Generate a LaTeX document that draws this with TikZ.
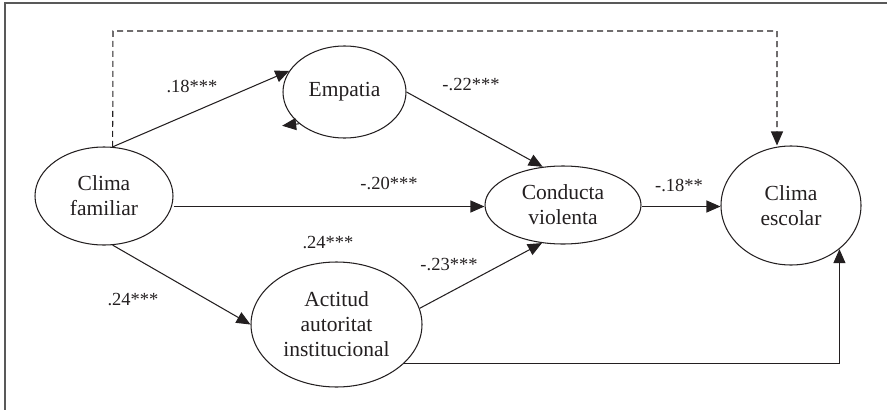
\documentclass[tikz,border=0pt]{standalone}
\usepackage{fontspec}
\setmainfont{Liberation Serif}
\usetikzlibrary{arrows.meta,shapes.geometric}
\definecolor{ink}{HTML}{231F20}
\begin{document}
\begin{tikzpicture}[x=1pt,y=-1pt,
  var/.style={ellipse,draw=ink,line width=1.05pt,inner sep=0pt,align=center,
    font=\fontsize{21.5}{25}\selectfont,text=ink},
  arr/.style={draw=ink,line width=1.05pt,-{Triangle[length=14pt,width=12pt]}},
  coef/.style={font=\fontsize{18.5}{20}\selectfont,text=ink,inner sep=0pt}]
\useasboundingbox (0,0) rectangle (887,410);
\draw[line width=1.3pt,draw=black!65] (887,3) -- (5,3) -- (5,410);
% nodes
\node[var,minimum width=138pt,minimum height=98pt] (cf) at (104,196) {Clima\\familiar};
\node[var,minimum width=123pt,minimum height=92pt] (emp) at (344.5,92) {Empatia};
\node[var,minimum width=156pt,minimum height=78pt] (cv) at (563,205) {Conducta\\violenta};
\node[var,minimum width=140pt,minimum height=119pt] (ce) at (791,205.5) {Clima\\escolar};
\node[var,minimum width=171pt,minimum height=125pt] (act) at (336.5,324.5) {Actitud\\autoritat\\institucional};
% dashed path
\coordinate (dA) at (113,31);
\coordinate (dB) at (777,31);
\coordinate (h) at (0,206.5);
\draw[arr,dashed,dash pattern=on 6pt off 4pt] (cf.80) -- (dA) -- (dB) -- (ce.north -| dB);
% connectors
\draw[arr] (cf.80) -- (emp.159);
\draw[arr] (emp.east) -- (cv.118);
\draw[arr] (cf.east |- h) -- (cv.west |- h);
\draw[arr] (cv.east |- h) -- (ce.west |- h);
\draw[arr] (cf.-80) -- (act.west);
\draw[arr] (act.11) -- (cv.241);
\draw[arr] (act.-30) -| (ce.-42);
\draw[arr] (emp.215) -- ++(-17,2);
% coefficients
\node[coef] (l1) at (192,86) {.18***};
\node[coef] (l2) at (471,85) {-.22***};
\node[coef] (l3) at (389,183) {-.20***};
\node[coef] (l4) at (679,185) {-.18**};
\node[coef] (l5) at (328,243) {.24***};
\node[coef] (l6) at (449,265) {-.23***};
\node[coef] (l7) at (133,300) {.24***};
\end{tikzpicture}
\end{document}
